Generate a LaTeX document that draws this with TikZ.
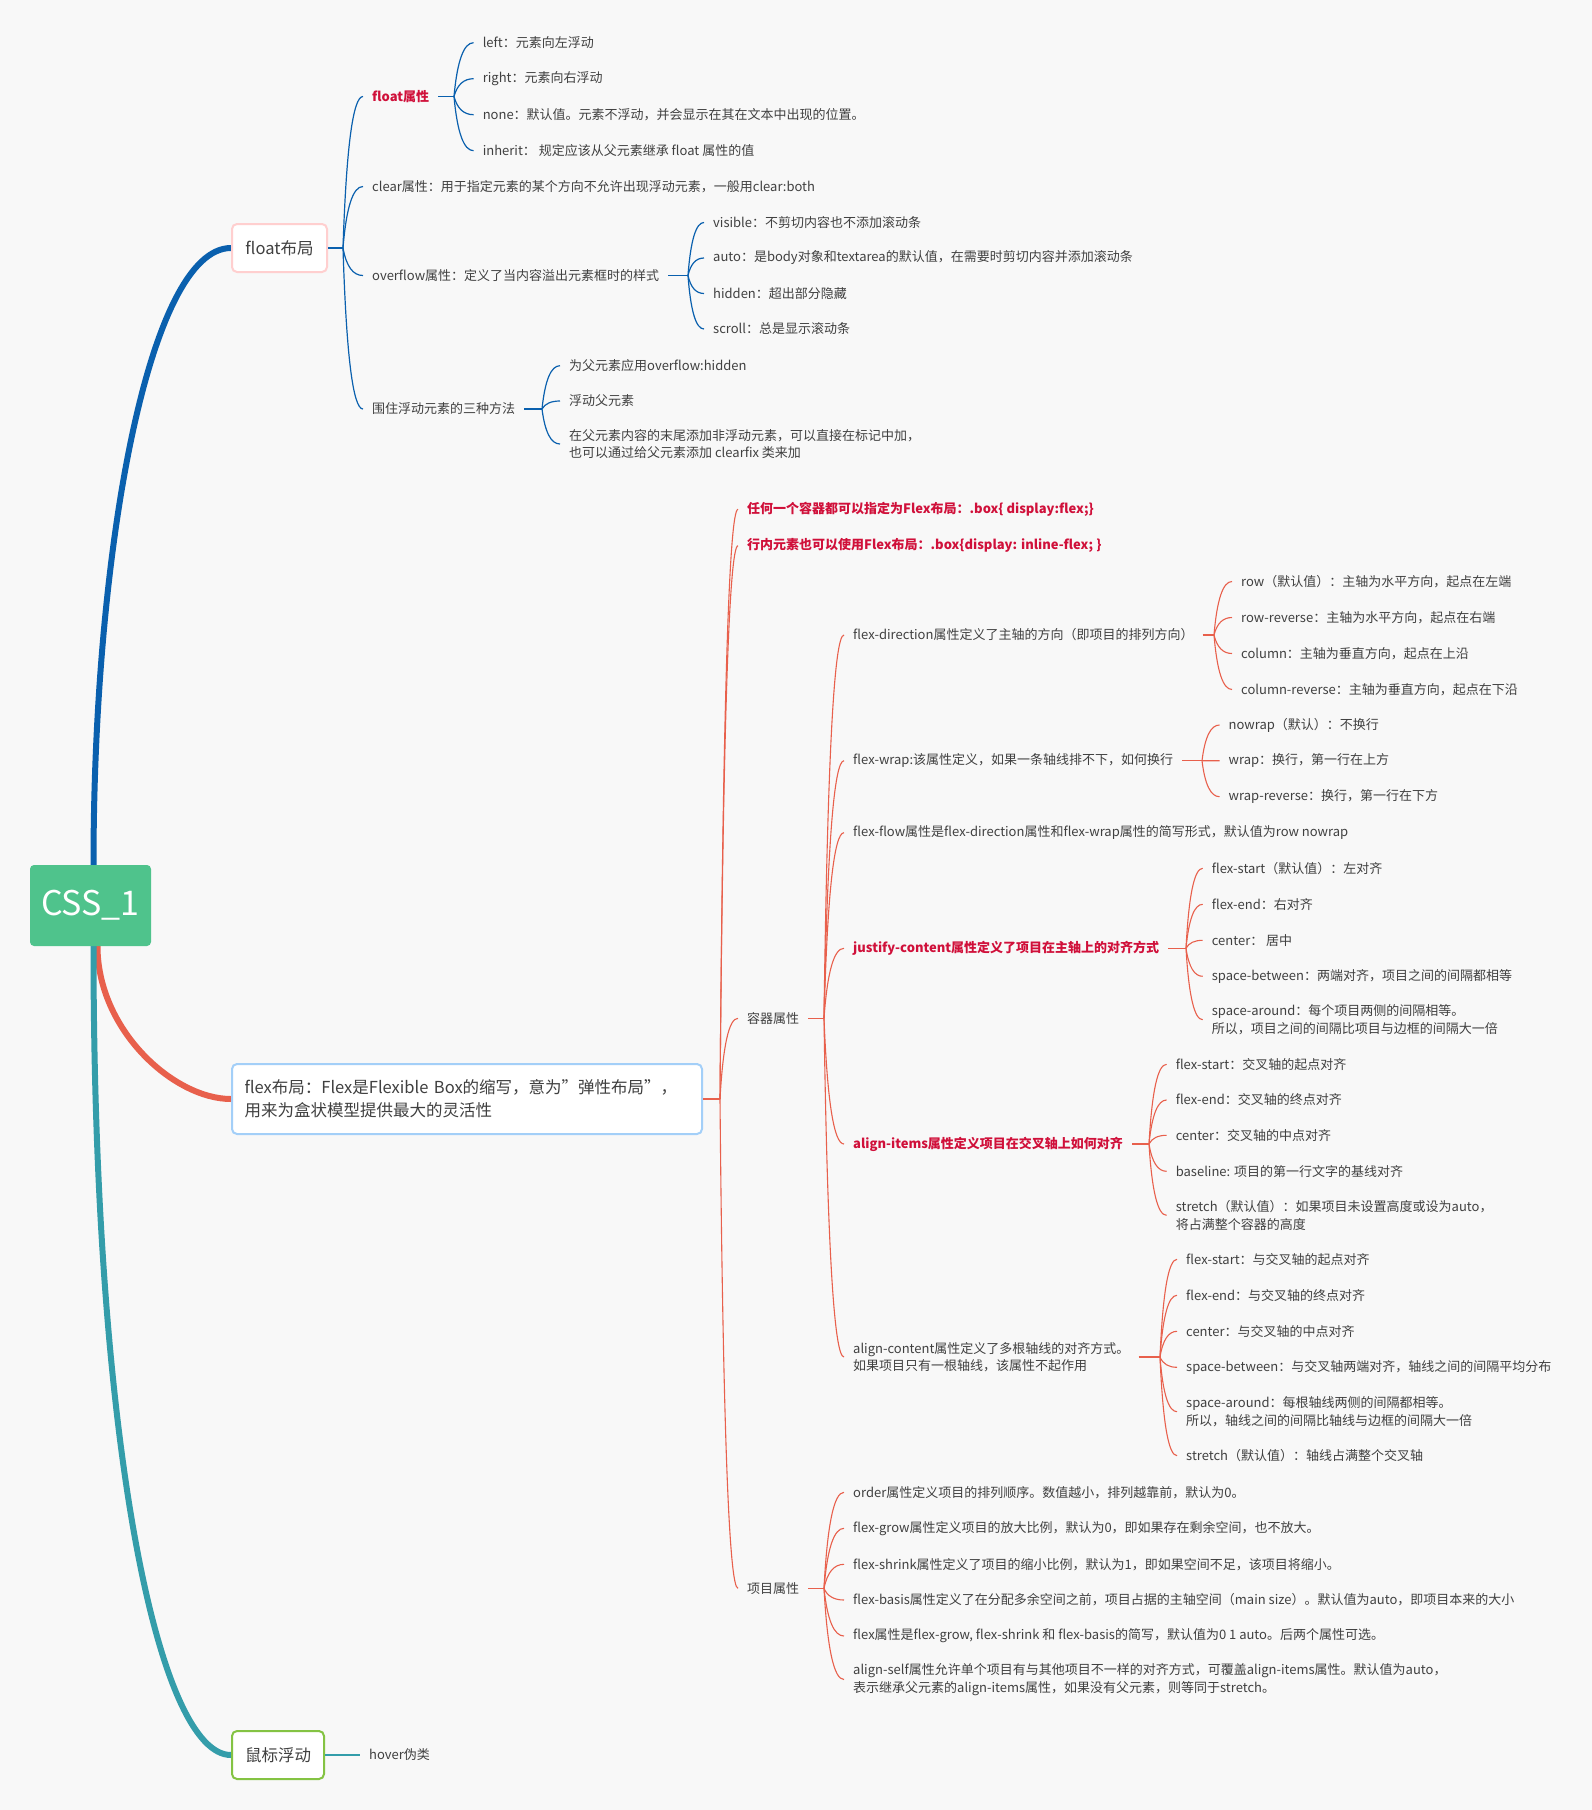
\documentclass[tikz,border=0pt]{standalone}
\usepackage{fontspec}
\setmainfont{Noto Sans CJK SC}
\usetikzlibrary{calc}
\definecolor{bgc}{HTML}{F8F8F8}
\definecolor{txt}{HTML}{404040}
\definecolor{hot}{HTML}{D0103A}
\definecolor{blueb}{HTML}{0A60AE}
\definecolor{redb}{HTML}{E8604C}
\definecolor{tealb}{HTML}{349DAA}
\definecolor{rootg}{HTML}{4FC38C}
\definecolor{pinkb}{HTML}{FFCFCF}
\definecolor{lblue}{HTML}{A3CFF8}
\definecolor{greenb}{HTML}{84C343}
\pgfdeclarelayer{back0}
\pgfdeclarelayer{back1}
\pgfsetlayers{back0,back1,main}
\newcommand\mmfs{\fontsize{13}{17.6}\selectfont}
\newcommand\mmkid[3]{%
  \coordinate (mmA) at (#2 |- #3.west);
  \coordinate (mmC) at ($(mmA)!0.25!(#3.west)$);
  \draw[#1] (#2) .. controls ($(#2)!0.6667!(mmC)$) and ($(#3.west)!0.6667!(mmC)$) .. (#3.west);
}
\begin{document}
\begin{tikzpicture}[x=1pt,y=-1pt,
  leaf/.style={anchor=west, inner xsep=9pt, inner ysep=1pt, text=txt, font=\mmfs, align=left},
  hotleaf/.style={leaf, text=hot, font=\mmfs\bfseries},
  topic/.style={draw, line width=2pt, rounded corners=5pt, fill=white, text=txt,
    font=\fontsize{16.5}{23}\selectfont, inner sep=0pt, align=left},
  thinb/.style={blueb, line width=1.2pt},
  thinr/.style={redb, line width=1.1pt},
  thint/.style={tealb, line width=1.2pt},
  mainbr/.style={line width=6pt}]
\useasboundingbox (0,0) rectangle (1592,1810);
\begin{pgfonlayer}{back0}
\fill[bgc] (0,0) rectangle (1592,1810);
\end{pgfonlayer}

% root and topics
\node[fill=rootg, rounded corners=4pt, minimum width=121pt, minimum height=81pt, inner sep=0pt,
  text=white, font=\fontsize{34}{36}\selectfont] (root) at (90.5,905.5) {CSS\_1};
\node[topic, draw=pinkb, minimum width=95pt, minimum height=48pt] (floatbox) at (279.5,248) {float布局};
\node[topic, draw=lblue, minimum height=70pt, inner xsep=12.6pt, text width=444.8pt] (flexbox) at (467,1099)
  {flex布局：Flex是Flexible Box的缩写，意为”弹性布局”，\\用来为盒状模型提供最大的灵活性};
\node[topic, draw=greenb, minimum width=92pt, minimum height=48pt] (mousebox) at (278,1755) {鼠标浮动};

% main branches
\begin{pgfonlayer}{back1}
\draw[mainbr, blueb] ($(root.center)+(3,0)$) -- ($(root.north)+(3,0)$)
  .. controls +(0,-316) and +(-82,0) .. (floatbox.west);
\draw[mainbr, redb] ($(root.center)+(7,0)$) -- ($(root.south)+(7,0)$)
  .. controls +(0,84) and +(-57,0) .. (flexbox.west);
\draw[mainbr, tealb] ($(root.center)+(3,0)$) -- ($(root.south)+(3,0)$)
  .. controls +(0,504) and +(-72,0) .. (mousebox.west);
\end{pgfonlayer}

% ---------------- float subtree
\node[hotleaf] (fp) at (363,96.5) {float属性};
\node[leaf] (fc) at (363,186.5) {clear属性：用于指定元素的某个方向不允许出现浮动元素，一般用clear:both};
\node[leaf] (fo) at (363,275.5) {overflow属性：定义了当内容溢出元素框时的样式};
\node[leaf] (fw) at (363,409) {围住浮动元素的三种方法};

\node[leaf] (l1) at (473.6,42.7) {left：元素向左浮动};
\node[leaf] (l2) at (473.6,78.7) {right：元素向右浮动};
\node[leaf] (l3) at (473.6,114.7) {none：默认值。元素不浮动，并会显示在其在文本中出现的位置。};
\node[leaf] (l4) at (473.6,150.7) {inherit： 规定应该从父元素继承 float 属性的值};

\node[leaf] (o1) at (704,222.5) {visible：不剪切内容也不添加滚动条};
\node[leaf] (o2) at (704,258) {auto：是body对象和textarea的默认值，在需要时剪切内容并添加滚动条};
\node[leaf] (o3) at (704,293.5) {hidden：超出部分隐藏};
\node[leaf] (o4) at (704,329) {scroll：总是显示滚动条};

\node[leaf] (w1) at (560,365.7) {为父元素应用overflow:hidden};
\node[leaf] (w2) at (560,401) {浮动父元素};
\node[leaf] (w3) at (560,444) {在父元素内容的末尾添加非浮动元素，可以直接在标记中加，\\也可以通过给父元素添加 clearfix 类来加};

\coordinate (jF) at (343,0 |- floatbox.east);
\coordinate (jFP) at (454,0 |- fp.east);
\coordinate (jFO) at (688,0 |- fo.east);
\coordinate (jFW) at (542,0 |- fw.east);
\draw[thinb] (floatbox.east) -- (jF);
\draw[thinb] (fp.east) -- (jFP);
\draw[thinb] (fo.east) -- (jFO);
\draw[thinb] (fw.east) -- (jFW);
\foreach \c in {fp,fc,fo,fw} {\mmkid{thinb}{jF}{\c}}
\foreach \c in {l1,l2,l3,l4} {\mmkid{thinb}{jFP}{\c}}
\foreach \c in {o1,o2,o3,o4} {\mmkid{thinb}{jFO}{\c}}
\foreach \c in {w1,w2,w3} {\mmkid{thinb}{jFW}{\c}}

% ---------------- flex subtree
\node[hotleaf] (x1) at (738,509.3) {任何一个容器都可以指定为Flex布局：.box\{ display:flex;\}};
\node[hotleaf] (x2) at (738,545.7) {行内元素也可以使用Flex布局：.box\{display: inline-flex; \}};
\node[leaf] (xc) at (738,1018.3) {容器属性};
\node[leaf] (xi) at (738,1588.3) {项目属性};

\node[leaf] (c1) at (844,635) {flex-direction属性定义了主轴的方向（即项目的排列方向）};
\node[leaf] (c2) at (844,760.7) {flex-wrap:该属性定义，如果一条轴线排不下，如何换行};
\node[leaf] (c3) at (844,832.7) {flex-flow属性是flex-direction属性和flex-wrap属性的简写形式，默认值为row nowrap};
\node[hotleaf] (c4) at (844,948.3) {justify-content属性定义了项目在主轴上的对齐方式};
\node[hotleaf] (c5) at (844,1144) {align-items属性定义项目在交叉轴上如何对齐};
\node[leaf] (c6) at (844,1357) {align-content属性定义了多根轴线的对齐方式。\\如果项目只有一根轴线，该属性不起作用};

\node[leaf] (d1) at (1232,581.5) {row（默认值）：主轴为水平方向，起点在左端};
\node[leaf] (d2) at (1232,617.5) {row-reverse：主轴为水平方向，起点在右端};
\node[leaf] (d3) at (1232,653.5) {column：主轴为垂直方向，起点在上沿};
\node[leaf] (d4) at (1232,689.5) {column-reverse：主轴为垂直方向，起点在下沿};

\node[leaf] (r1) at (1219.5,725) {nowrap（默认）：不换行};
\node[leaf] (r2) at (1219.5,760.7) {wrap：换行，第一行在上方};
\node[leaf] (r3) at (1219.5,796.7) {wrap-reverse：换行，第一行在下方};

\node[leaf] (j1) at (1202.7,868.3) {flex-start（默认值）：左对齐};
\node[leaf] (j2) at (1202.7,904.3) {flex-end：右对齐};
\node[leaf] (j3) at (1202.7,940.3) {center： 居中};
\node[leaf] (j4) at (1202.7,976.3) {space-between：两端对齐，项目之间的间隔都相等};
\node[leaf] (j5) at (1202.7,1019.7) {space-around：每个项目两侧的间隔相等。\\所以，项目之间的间隔比项目与边框的间隔大一倍};

\node[leaf] (a1) at (1166.6,1064.3) {flex-start：交叉轴的起点对齐};
\node[leaf] (a2) at (1166.6,1100) {flex-end：交叉轴的终点对齐};
\node[leaf] (a3) at (1166.6,1135.3) {center：交叉轴的中点对齐};
\node[leaf] (a4) at (1166.6,1171.3) {baseline: 项目的第一行文字的基线对齐};
\node[leaf] (a5) at (1166.6,1215.3) {stretch（默认值）：如果项目未设置高度或设为auto，\\将占满整个容器的高度};

\node[leaf] (b1) at (1177,1259.3) {flex-start：与交叉轴的起点对齐};
\node[leaf] (b2) at (1177,1295.3) {flex-end：与交叉轴的终点对齐};
\node[leaf] (b3) at (1177,1331.3) {center：与交叉轴的中点对齐};
\node[leaf] (b4) at (1177,1367.3) {space-between：与交叉轴两端对齐，轴线之间的间隔平均分布};
\node[leaf] (b5) at (1177,1411.7) {space-around：每根轴线两侧的间隔都相等。\\所以，轴线之间的间隔比轴线与边框的间隔大一倍};
\node[leaf] (b6) at (1177,1455.7) {stretch（默认值）：轴线占满整个交叉轴};

\node[leaf] (p1) at (844,1492.3) {order属性定义项目的排列顺序。数值越小，排列越靠前，默认为0。};
\node[leaf] (p2) at (844,1528.3) {flex-grow属性定义项目的放大比例，默认为0，即如果存在剩余空间，也不放大。};
\node[leaf] (p3) at (844,1564.3) {flex-shrink属性定义了项目的缩小比例，默认为1，即如果空间不足，该项目将缩小。};
\node[leaf] (p4) at (844,1600) {flex-basis属性定义了在分配多余空间之前，项目占据的主轴空间（main size）。默认值为auto，即项目本来的大小};
\node[leaf] (p5) at (844,1636) {flex属性是flex-grow, flex-shrink 和 flex-basis的简写，默认值为0 1 auto。后两个属性可选。};
\node[leaf] (p6) at (844,1679.5) {align-self属性允许单个项目有与其他项目不一样的对齐方式，可覆盖align-items属性。默认值为auto，\\表示继承父元素的align-items属性，如果没有父元素，则等同于stretch。};

\coordinate (jX) at (720,0 |- flexbox.east);
\coordinate (jXC) at (824,0 |- xc.east);
\coordinate (jXI) at (824,0 |- xi.east);
\coordinate (jC1) at (1214,0 |- c1.east);
\coordinate (jC2) at (1202,0 |- c2.east);
\coordinate (jC4) at (1186,0 |- c4.east);
\coordinate (jC5) at (1149,0 |- c5.east);
\coordinate (jC6) at (1160,0 |- c6.east);
\draw[thinr] (flexbox.east) -- (jX);
\draw[thinr] (xc.east) -- (jXC);
\draw[thinr] (xi.east) -- (jXI);
\draw[thinr] (c1.east) -- (jC1);
\draw[thinr] (c2.east) -- (jC2);
\draw[thinr] (c4.east) -- (jC4);
\draw[thinr] (c5.east) -- (jC5);
\draw[thinr] (c6.east) -- (jC6);
\foreach \c in {x1,x2,xc,xi} {\mmkid{thinr}{jX}{\c}}
\foreach \c in {c1,c2,c3,c4,c5,c6} {\mmkid{thinr}{jXC}{\c}}
\foreach \c in {d1,d2,d3,d4} {\mmkid{thinr}{jC1}{\c}}
\foreach \c in {r1,r2,r3} {\mmkid{thinr}{jC2}{\c}}
\foreach \c in {j1,j2,j3,j4,j5} {\mmkid{thinr}{jC4}{\c}}
\foreach \c in {a1,a2,a3,a4,a5} {\mmkid{thinr}{jC5}{\c}}
\foreach \c in {b1,b2,b3,b4,b5,b6} {\mmkid{thinr}{jC6}{\c}}
\foreach \c in {p1,p2,p3,p4,p5,p6} {\mmkid{thinr}{jXI}{\c}}

% ---------------- mouse subtree
\node[leaf] (hv) at (360,1755) {hover伪类};
\draw[thint] (mousebox.east) -- (hv.west);
\end{tikzpicture}
\end{document}
